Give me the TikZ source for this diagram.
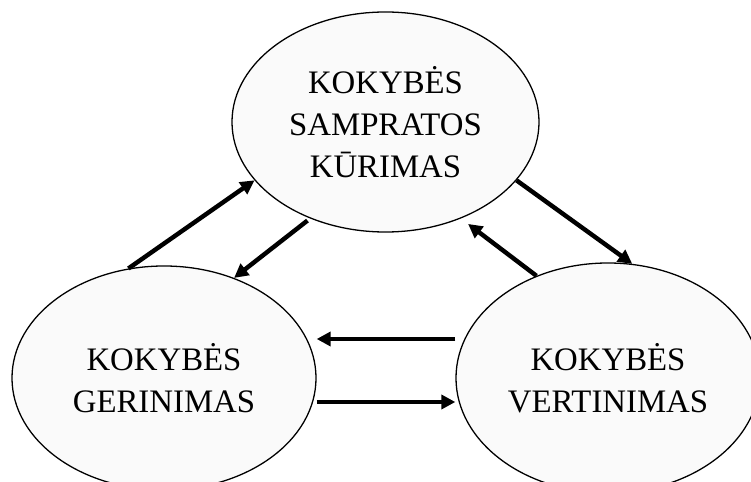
\documentclass[tikz,border=0pt]{standalone}
\usepackage{fontspec}
\setmainfont{Liberation Serif}
\usetikzlibrary{positioning,calc,arrows.meta,shapes.geometric}

\begin{document}
\begin{tikzpicture}[
        x=0.03cm, y=-0.03cm,
        stage/.style={draw, ellipse, line width=1.1pt, fill=black!2, inner sep=0pt, align=center, font=\fontsize{28}{36}\selectfont},
        flow/.style={-{Triangle[length=12pt, width=12pt]}, line width=3.8pt}
    ]
    \useasboundingbox (0,0) rectangle (751,482);

    % Concept creation
    \node[stage, minimum width=9.21cm, minimum height=6.6cm] (kurimas) at (385.5,122) {KOKYBĖS\\SAMPRATOS\\KŪRIMAS};

    % Improvement
    \node[stage, minimum width=9.12cm, minimum height=6.72cm] (gerinimas) at (164,378) {KOKYBĖS\\GERINIMAS};

    % Evaluation
    \node[stage, minimum width=9.12cm, minimum height=6.9cm] (vertinimas) at (608,378) {KOKYBĖS\\VERTINIMAS};

    % Arrows - between the top ellipse and the lower ones
    \draw[flow] (gerinimas.108) -- (kurimas.204.7);
    \draw[flow, shorten <=0.1cm] (kurimas.232) -- (gerinimas.55);
    \draw[flow] (kurimas.336.4) -- (vertinimas.78);
    \draw[flow, shorten >=0.27cm] (vertinimas.125) -- (kurimas.308.4);

    % Arrows - between the lower ellipses
    \draw[flow] ([yshift=1.17cm]vertinimas.west) -- ([yshift=1.17cm]gerinimas.east);
    \draw[flow] ([yshift=-0.72cm]gerinimas.east) -- ([yshift=-0.72cm]vertinimas.west);

\end{tikzpicture}
\end{document}
